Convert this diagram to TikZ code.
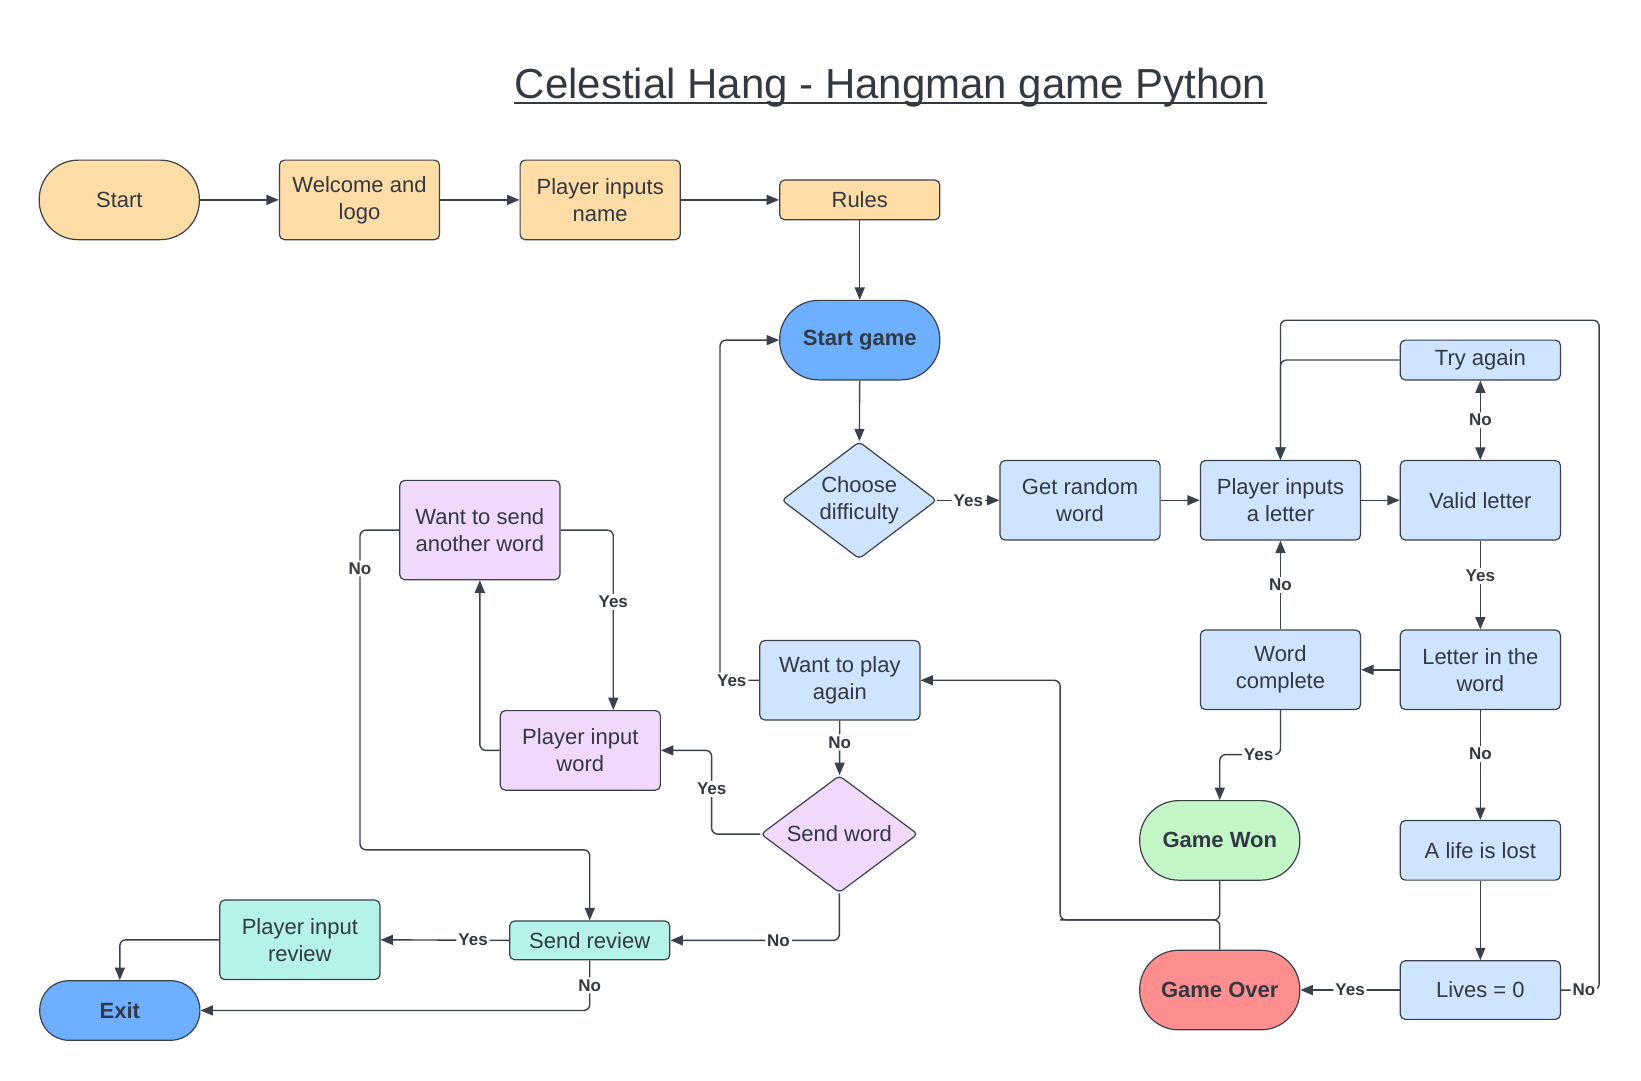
\documentclass[tikz,border=0pt]{standalone}
\usepackage{fontspec}
\setmainfont{Liberation Sans}
\usetikzlibrary{shapes.geometric,arrows.meta,calc}
\definecolor{bordc}{HTML}{3A414A}
\definecolor{textc}{HTML}{333942}
\definecolor{orng}{HTML}{FFDDA6}
\definecolor{blu}{HTML}{6CB0FF}
\definecolor{lblu}{HTML}{CFE4FF}
\definecolor{purp}{HTML}{F1D9FC}
\definecolor{tealc}{HTML}{B5F3EA}
\definecolor{grn}{HTML}{C3F7C8}
\definecolor{redc}{HTML}{FF8F8F}
\tikzset{
  base/.style={draw=bordc, line width=0.6pt, text=textc, font=\fontsize{11}{13.5}\selectfont, align=center, inner sep=2pt},
  boldtxt/.style={font=\fontsize{11}{13.5}\selectfont\bfseries},
  box/.style={base, rectangle, rounded corners=2.5pt, minimum width=80.07pt, minimum height=39.77pt},
  stad/.style={base, rectangle, rounded corners=19.5pt, minimum width=80.07pt, minimum height=39.77pt},
  dia/.style={base, diamond, aspect=1.32, inner sep=0pt, rounded corners=2pt, minimum width=77.5pt, minimum height=58.6pt},
  tip/.tip={Triangle[length=6.2pt,width=5pt]},
  conn/.style={draw=bordc, line width=0.7pt, rounded corners=3pt, -tip},
  plain/.style={draw=bordc, line width=0.7pt, rounded corners=3pt},
  lbl/.style={fill=white, text=textc, font=\fontsize{8.5}{10}\selectfont\bfseries, inner sep=1pt}
}
\begin{document}
\begin{tikzpicture}[x=0.5233pt,y=-0.5233pt]
\useasboundingbox (0,0) rectangle (1568,1032);

% title
\node[text=textc, font=\fontsize{21}{25}\selectfont, anchor=base, inner sep=0pt] (title) at (851,94) {Celestial Hang - Hangman game Python};
\draw[textc, line width=1pt] ($(title.base west)+(0,4)$) -- ($(title.base east)+(0,4)$);

% nodes
\node[stad, fill=orng] (start) at (114,191) {Start};
\node[box, fill=orng] (welcome) at (343.5,191) {Welcome and\\logo};
\node[box, fill=orng] (pname) at (573.5,191) {Player inputs\\name};
\node[box, fill=orng, minimum height=19.9pt] (rules) at (821.5,191) {Rules};
\node[stad, fill=blu, boldtxt] (startgame) at (821.5,325) {Start game};
\node[dia, fill=lblu] (choose) at (821,478) {Choose\\difficulty};
\node[box, fill=lblu] (getword) at (1032,478) {Get random\\word};
\node[box, fill=lblu] (pletter) at (1223.5,478) {Player inputs\\a letter};
\node[box, fill=lblu] (valid) at (1414.5,478) {Valid letter};
\node[box, fill=lblu, minimum height=19.9pt] (tryagain) at (1414.5,344) {Try again};
\node[box, fill=lblu] (letterin) at (1414.5,640) {Letter in the\\word};
\node[box, fill=lblu] (wordc) at (1223.5,640) {Word\\complete};
\node[box, fill=lblu, minimum height=29.8pt] (lifelost) at (1414.5,812.5) {A life is lost};
\node[box, fill=lblu, minimum height=29.3pt] (lives0) at (1414.5,946) {Lives = 0};
\node[stad, fill=grn, boldtxt] (gamewon) at (1165.5,803) {Game Won};
\node[stad, fill=redc, boldtxt] (gameover) at (1165.5,946) {Game Over};
\node[box, fill=lblu] (playagain) at (802.5,650) {Want to play\\again};
\node[dia, fill=purp, minimum width=78.5pt] (sendword) at (802,797) {Send word};
\node[box, fill=purp, minimum height=49.7pt] (sendanother) at (458.5,506.5) {Want to send\\another word};
\node[box, fill=purp] (pinword) at (554.5,717) {Player input\\word};
\node[box, fill=tealc, minimum height=19.4pt] (sendreview) at (563.5,898.5) {Send review};
\node[box, fill=tealc] (pinreview) at (286.5,898) {Player input\\review};
\node[stad, fill=blu, boldtxt, minimum height=29.8pt, rounded corners=14.5pt] (exit) at (114.5,965.5) {Exit};

% helper coordinates
\coordinate (loopR) at (1528,306);
\coordinate (wy) at (1223.5,721);
\coordinate (j1) at (1013,879);
\coordinate (j2) at (688,325);
\coordinate (j3) at (680,717);
\coordinate (j4) at (586,506.5);
\coordinate (j5) at (344,812);

% connectors
\draw[conn] (start) -- (welcome);
\draw[conn] (welcome) -- (pname);
\draw[conn] (pname) -- (rules);
\draw[conn] (rules) -- (startgame);
\draw[conn] (startgame) -- (choose);
\draw[conn] (choose) -- node[lbl]{Yes} (getword);
\draw[conn] (getword) -- (pletter);
\draw[conn] (pletter) -- (valid);
\draw[conn, tip-tip] (tryagain) -- node[lbl]{No} (valid);
\draw[conn] (tryagain.west) -| (pletter.north);
\draw[conn] (lives0.east) -| node[lbl,pos=0.3]{No} (loopR) -| (pletter.north);
\draw[conn] (valid) -- node[lbl,pos=0.4]{Yes} (letterin);
\draw[conn] (letterin) -- (wordc);
\draw[conn] (wordc) -- node[lbl]{No} (pletter);
\draw[conn] (wordc.south) -- (wy) -| node[lbl,pos=0.18]{Yes} (gamewon.north);
\draw[conn] (letterin) -- node[lbl,pos=0.4]{No} (lifelost);
\draw[conn] (lifelost) -- (lives0);
\draw[conn] (lives0) -- node[lbl]{Yes} (gameover);
\draw[conn] (gamewon.south) |- (j1) |- (playagain.east);
\draw[plain] (gameover.north) |- (j1);
\draw[conn] (playagain.west) -| node[lbl,pos=0.35]{Yes} (j2) -- (startgame.west);
\draw[conn] (playagain) -- node[lbl,pos=0.4]{No} (sendword);
\draw[conn] (sendword.west) -| node[lbl,pos=0.77]{Yes} (j3) -- (pinword.east);
\draw[conn] (sendword.south) |- node[lbl,pos=0.68]{No} (sendreview.east);
\draw[conn] (pinword.west) -| (sendanother.south);
\draw[conn] (sendanother.east) -- (j4) -- node[lbl,pos=0.4]{Yes} (j4 |- pinword.north);
\draw[conn] (sendanother.west) -| node[lbl,pos=0.56]{No} (j5) -| (sendreview.north);
\draw[conn] (sendreview.west) -- node[lbl,pos=0.28]{Yes} (pinreview.east);
\draw[conn] (sendreview.south) |- node[lbl,pos=0.25]{No} (exit.east);
\draw[conn] (pinreview.west) -| (exit.north);
\end{tikzpicture}
\end{document}
